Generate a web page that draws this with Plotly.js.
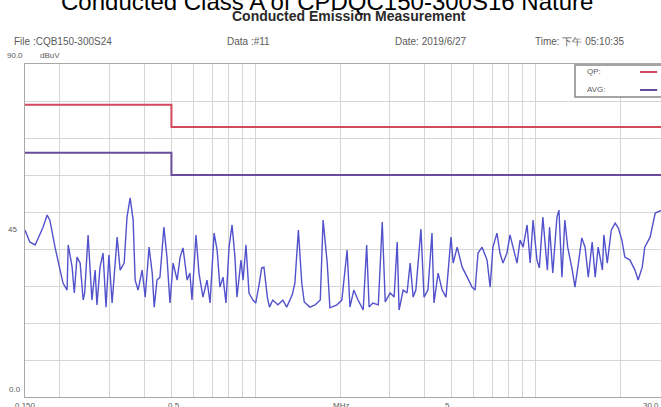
<!DOCTYPE html>
<html>
<head>
<meta charset="utf-8">
<script src="https://cdn.plot.ly/plotly-3.0.1.min.js"></script>
<style>html,body{margin:0;padding:0;background:#fff;}#chart{width:661px;height:407px;}</style>
</head>
<body>
<div id="chart"></div>
<script>
// ---- data ----
const chartTitle = "Conducted Class A of CPDQC150-300S16 Nature";
const subTitle = "Conducted Emission Measurement";
const headerFile = "File :CQB150-300S24";
const headerData = "Data :#11";
const headerDate = "Date: 2019/6/27";
const headerTime = "Time: 下午 05:10:35";

const freqMHz = [0.150,0.156,0.163,0.167,0.174,0.180,0.184,0.192,0.200,0.205,0.212,0.214,0.221,0.225,0.230,0.236,0.242,0.245,0.252,0.260,
0.267,0.271,0.278,0.285,0.292,0.299,0.307,0.320,0.328,0.339,0.347,0.356,0.365,0.371,0.380,0.393,0.403,0.416,0.427,0.434,
0.444,0.455,0.470,0.482,0.494,0.507,0.524,0.537,0.550,0.569,0.582,0.592,0.612,0.627,0.648,0.670,0.687,0.710,0.728,0.745,
0.764,0.783,0.803,0.823,0.843,0.857,0.886,0.901,0.923,0.946,0.977,1.00,1.03,1.05,1.07,1.10,1.12,1.15,1.20,1.25,
1.29,1.35,1.38,1.42,1.46,1.49,1.56,1.63,1.70,1.74,1.80,1.84,1.95,2.03,2.12,2.17,2.24,2.32,2.42,2.49,
2.54,2.62,2.74,2.83,2.90,3.02,3.12,3.20,3.25,3.36,3.47,3.56,3.65,3.73,3.89,3.99,4.12,4.26,4.33,4.48,
4.63,4.78,4.98,5.07,5.24,5.46,5.69,5.92,6.07,6.22,6.43,6.70,6.87,7.03,7.27,7.45,7.64,7.89,8.09,8.29,
8.57,8.79,9.01,9.31,9.55,9.78,10.1,10.3,10.6,11.0,11.2,11.5,11.9,12.1,12.4,12.7,13.0,13.5,13.8,14.2,
14.6,15.0,15.4,15.9,16.3,16.7,17.3,17.5,18.0,18.6,19.2,19.7,20.3,20.8,21.7,22.6,23.2,24.0,24.5,25.6,
26.7,27.8,30.0];
const levelDbuv = [45.1,41.9,41.1,43.0,45.9,49.2,47.8,40.5,34.3,30.8,28.9,41.1,35.1,28.1,37.8,36.2,26.2,28.1,43.8,26.2,
34.3,24.9,35.1,38.9,24.3,38.4,25.4,43.2,34.3,36.2,48.6,53.8,47.8,31.6,28.9,34.3,27.0,40.5,33.5,24.3,
31.6,32.4,45.9,37.8,25.4,36.2,31.6,37.8,40.3,31.6,33.5,26.2,43.8,33.5,27.0,31.6,25.4,44.3,39.7,29.7,
32.4,25.4,40.5,46.5,37.8,27.0,37.0,31.6,41.1,28.1,26.2,25.4,30.8,34.9,35.1,27.0,24.3,26.2,24.9,26.2,
24.3,27.6,30.8,45.1,30.8,25.7,24.3,24.9,26.2,47.8,36.2,24.1,24.9,26.2,39.7,24.3,28.9,26.2,23.5,41.1,
24.3,25.4,24.9,47.3,25.7,28.1,27.0,41.9,23.5,28.9,28.1,36.2,27.0,28.9,45.4,27.0,28.9,44.3,25.4,33.5,
28.9,27.0,43.2,36.2,40.5,35.1,32.4,29.7,28.9,38.9,40.5,37.0,29.7,40.5,44.3,38.9,36.2,38.9,43.8,40.5,
36.2,42.4,40.5,46.5,36.2,47.8,37.0,34.9,48.6,34.3,45.9,33.5,48.6,50.5,32.4,47.8,40.5,34.3,29.7,36.2,
43.0,40.5,32.4,41.9,32.4,40.5,34.3,43.8,36.2,45.1,47.0,45.7,42.4,37.8,37.0,34.3,31.6,35.1,40.5,43.2,
49.7,50.3,50.5];

const limitFreq = [0.15, 0.5, 0.5, 30];
const qpLimit = [79, 79, 73, 73];
const avgLimit = [66, 66, 60, 60];

const xGridVals = [0.2,0.3,0.4,0.5,0.6,0.7,0.8,0.9,1,2,3,4,5,6,7,8,9,10,20];
const yRange = [0, 90];
const xRangeMHz = [0.15, 28.0];

const yLabels = ["90.0", "45", "0.0"];
const yUnit = "dBuV";
const xLabels = ["0.150", "0.5", "MHz", "5", "30.0"];
const legendNames = ["QP:", "AVG:"];

// ---- styles ----
const FONT = "Liberation Sans, Arial, sans-serif";
const redC = "#d24a5c", purC = "#6a4c9c", dataC = "#5252cc", txtC = "#5a5a5a";

const traces = [
  {x: limitFreq, y: qpLimit, mode: "lines", line: {color: redC, width: 2}, hoverinfo: "skip"},
  {x: limitFreq, y: avgLimit, mode: "lines", line: {color: purC, width: 2}, hoverinfo: "skip"},
  {x: freqMHz, y: levelDbuv, mode: "lines", line: {color: dataC, width: 1.4}, hoverinfo: "skip"}
];

function ann(text, x, y, xanchor, size, extra) {
  return Object.assign({text: text, x: x, y: y, xref: "paper", yref: "paper", xanchor: xanchor, yanchor: "middle",
    showarrow: false, font: {family: FONT, size: size, color: txtC}}, extra || {});
}

const annotations = [
  ann(subTitle, 0.5094, 1.143, "center", 14, {font: {family: FONT, size: 14, color: "#2a2a2a", weight: "bold"}}),
  ann(headerFile, -0.0204, 1.069, "left", 10),
  ann(headerData, 0.3145, 1.069, "left", 10),
  ann(headerDate, 0.5786, 1.069, "left", 10),
  ann(headerTime, 0.7987, 1.069, "left", 10),
  ann(yLabels[0], -0.0157, 1.027, "center", 8),
  ann(yUnit, 0.039, 1.027, "center", 8),
  ann(yLabels[1], -0.020, 0.5045, "center", 8),
  ann(yLabels[2], -0.0157, 0.024, "center", 8),
  ann(xLabels[0], 0.0, -0.026, "center", 8),
  ann(xLabels[1], 0.234, -0.026, "center", 8),
  ann(xLabels[2], 0.497, -0.026, "center", 8),
  ann(xLabels[3], 0.665, -0.026, "center", 8),
  ann(xLabels[4], 0.984, -0.026, "center", 8),
  ann(legendNames[0], 0.8805, 0.976, "left", 8),
  ann(legendNames[1], 0.8805, 0.922, "left", 8)
];

const shapes = [
  {type: "rect", xref: "paper", yref: "paper", x0: 0.8648, x1: 1.05, y0: 0.901, y1: 0.997,
   line: {color: "#888", width: 1.5}, fillcolor: "rgba(255,255,255,1)", layer: "above"},
  {type: "line", xref: "paper", yref: "paper", x0: 0.967, x1: 0.994, y0: 0.976, y1: 0.976, line: {color: redC, width: 2}},
  {type: "line", xref: "paper", yref: "paper", x0: 0.967, x1: 0.994, y0: 0.922, y1: 0.922, line: {color: purC, width: 2}}
];

const layout = {
  width: 661, height: 407,
  margin: {l: 25, r: 0, t: 64, b: 10, pad: 0},
  paper_bgcolor: "#fff", plot_bgcolor: "#fff",
  showlegend: false,
  title: {text: chartTitle, x: 0.495, xanchor: "center", y: 0.995, yanchor: "middle",
          font: {family: FONT, size: 24, color: "#000"}},
  xaxis: {type: "log", range: [Math.log10(xRangeMHz[0]), Math.log10(xRangeMHz[1])],
          tickvals: xGridVals, showticklabels: false, ticks: "",
          showgrid: true, gridcolor: "#d6d6d6", gridwidth: 1,
          showline: true, mirror: true, linecolor: "#a8a8a8", linewidth: 1, zeroline: false},
  yaxis: {range: yRange, dtick: 10, showticklabels: false, ticks: "",
          showgrid: true, gridcolor: "#d6d6d6", gridwidth: 1,
          showline: true, mirror: true, linecolor: "#a8a8a8", linewidth: 1, zeroline: false},
  annotations: annotations,
  shapes: shapes
};

Plotly.newPlot("chart", traces, layout, {displayModeBar: false, staticPlot: true});
</script>
</body>
</html>
